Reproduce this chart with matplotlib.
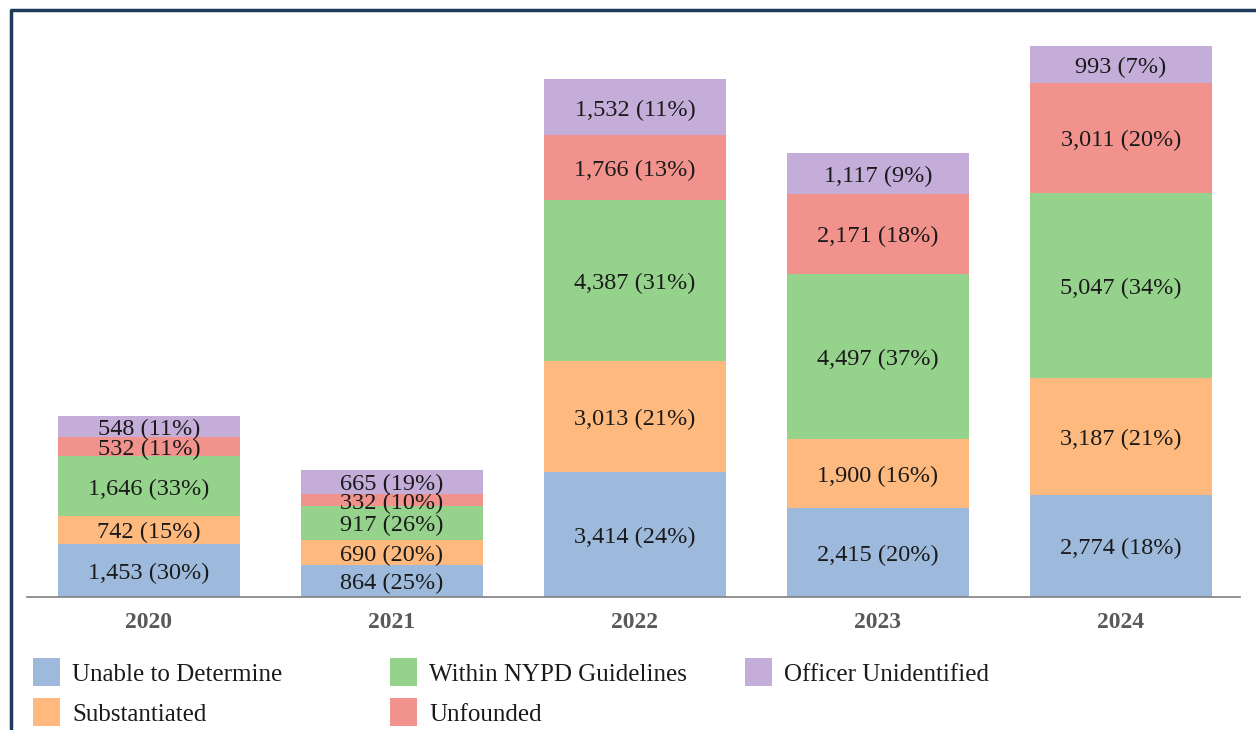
import matplotlib
matplotlib.use("Agg")
import matplotlib.pyplot as plt
from matplotlib.patches import Rectangle
from matplotlib.lines import Line2D

years = ["2020", "2021", "2022", "2023", "2024"]
series = ["Unable to Determine", "Substantiated", "Within NYPD Guidelines",
          "Unfounded", "Officer Unidentified"]
unable = [1453, 864, 3414, 2415, 2774]
substantiated = [742, 690, 3013, 1900, 3187]
within = [1646, 917, 4387, 4497, 5047]
unfounded = [532, 332, 1766, 2171, 3011]
unidentified = [548, 665, 1532, 1117, 993]
pct_unable = [30, 25, 24, 20, 18]
pct_substantiated = [15, 20, 21, 16, 21]
pct_within = [33, 26, 31, 37, 34]
pct_unfounded = [11, 10, 13, 18, 20]
pct_unidentified = [11, 19, 11, 9, 7]

colors = ["#9DBADC", "#FEB97E", "#95D38C", "#F1928C", "#C4ADD9"]
values = [unable, substantiated, within, unfounded, unidentified]
pcts = [pct_unable, pct_substantiated, pct_within, pct_unfounded, pct_unidentified]

W, H = 1256, 730
fig = plt.figure(figsize=(W / 100, H / 100), dpi=100)
serif = "Liberation Serif"

ax = fig.add_axes([27 / W, (H - 597) / H, (1240 - 27) / W, 587 / H])
x = list(range(len(years)))
bottoms = [0] * len(years)
for vals, pc, col in zip(values, pcts, colors):
    ax.bar(x, vals, width=0.75, bottom=bottoms, color=col, edgecolor="none")
    for xi, v, p, b in zip(x, vals, pc, bottoms):
        ax.annotate(f"{v:,} ({p}%)", (xi, b + v / 2), xytext=(0, -2),
                    textcoords="offset points", ha="center", va="center",
                    fontsize=17.5, family=serif, color="#1a1a1a")
    bottoms = [b + v for b, v in zip(bottoms, vals)]

ax.set_xlim(-0.502, 4.49)
ax.set_ylim(0, 16000)
for s in ["top", "right", "left"]:
    ax.spines[s].set_visible(False)
ax.spines["bottom"].set_color("#808080")
ax.spines["bottom"].set_linewidth(1.2)
ax.set_yticks([])
ax.set_xticks(x)
ax.set_xticklabels(years, fontsize=17, fontweight="bold", family=serif, color="#595959")
ax.tick_params(axis="x", length=0, pad=11)

# legend
leg_pos = [(33, 658), (33, 698), (390, 658), (390, 698), (745, 658)]
for name, col, (lx, ly) in zip(series, colors, leg_pos):
    fig.patches.append(Rectangle((lx / W, 1 - (ly + 28) / H), 27 / W, 28 / H,
                                 transform=fig.transFigure, facecolor=col, edgecolor="none"))
    fig.text((lx + 39) / W, 1 - (ly + 17) / H, name, ha="left", va="center",
             fontsize=18, family=serif, color="#1a1a1a")

# frame
fig.lines.append(Line2D([11 / W, 11 / W, 1.0], [0, 1 - 10 / H, 1 - 10 / H],
                        transform=fig.transFigure, color="#1F3A5A", linewidth=2.5))

fig.savefig("out.png", dpi=100)
